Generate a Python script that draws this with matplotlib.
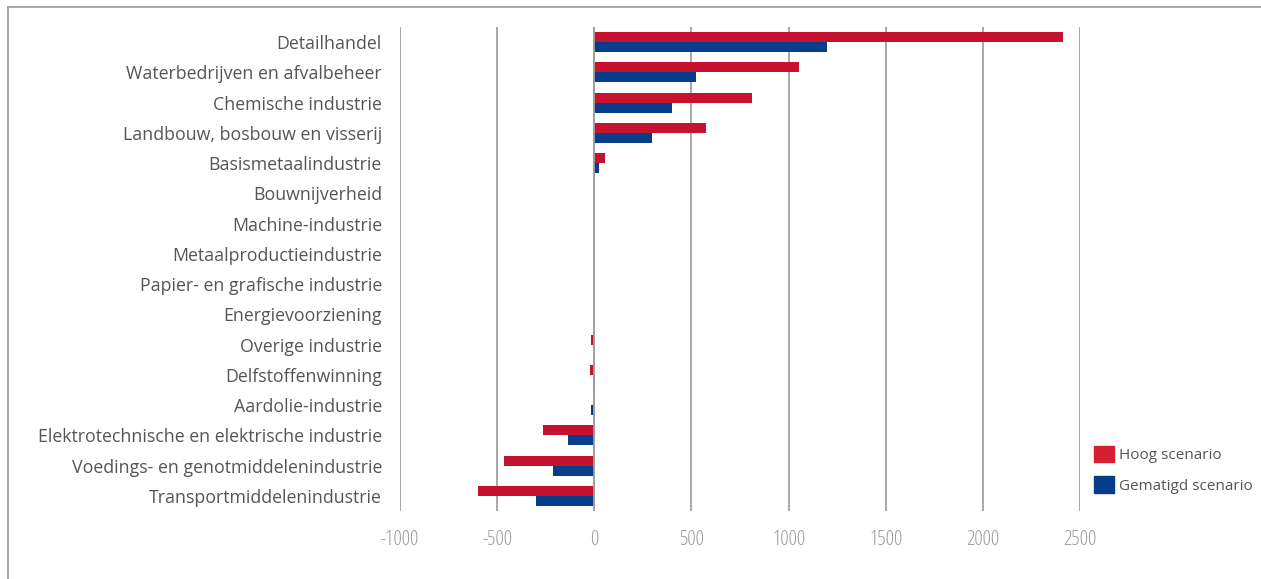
import numpy as np
import matplotlib.pyplot as plt
from matplotlib.lines import Line2D
from matplotlib.patches import Patch

# categories, top to bottom
sectoren = [
    'Detailhandel',
    'Waterbedrijven en afvalbeheer',
    'Chemische industrie',
    'Landbouw, bosbouw en visserij',
    'Basismetaalindustrie',
    'Bouwnijverheid',
    'Machine-industrie',
    'Metaalproductieindustrie',
    'Papier- en grafische industrie',
    'Energievoorziening',
    'Overige industrie',
    'Delfstoffenwinning',
    'Aardolie-industrie',
    'Elektrotechnische en elektrische industrie',
    'Voedings- en genotmiddelenindustrie',
    'Transportmiddelenindustrie',
]
hoog = [2410, 1055, 810, 575, 55, 0, 0, 0, 0, 0, -15, -20, 0, -265, -465, -600]
gematigd = [1200, 525, 400, 295, 25, 0, 0, 0, 0, 0, 0, 5, -15, -135, -215, -300]
xticks = [-1000, -500, 0, 500, 1000, 1500, 2000, 2500]

rood = '#c4122f'
blauw = '#083d8b'
plt.rcParams['font.family'] = ['Open Sans', 'DejaVu Sans']

fig = plt.figure(figsize=(12.61, 5.79), dpi=100)
ax = fig.add_axes([400 / 1261, 1 - 511 / 579, 680 / 1261, 484 / 579])

y = np.arange(len(sectoren))
h = 0.33
ax.barh(y - h / 2, hoog, height=h, color=rood, zorder=3)
ax.barh(y + h / 2, gematigd, height=h, color=blauw, zorder=3)

ax.set_xlim(-1000, 2500)
ax.set_ylim(len(sectoren) - 0.5, -0.5)
ax.set_xticks(xticks)
ax.set_xticklabels([str(t) for t in xticks], color='#9a9a9a', fontsize=15,
                   fontstretch='condensed')
ax.set_yticks(y)
ax.set_yticklabels(sectoren, color='#555555', fontsize=12.8)
ax.tick_params(axis='both', length=0)
ax.tick_params(axis='x', pad=14)
ax.tick_params(axis='y', pad=13)
for s in ax.spines.values():
    s.set_visible(False)
ax.grid(axis='x', color='#a0a0a0', linewidth=1.3, zorder=0)
ax.axvline(0, color='#a0a0a0', linewidth=1.3, zorder=4)

# frame lines (left and top only)
fig.add_artist(Line2D([8 / 1261, 8 / 1261], [0, 1 - 7 / 579], transform=fig.transFigure,
                      color='#a0a0a0', linewidth=1.3))
fig.add_artist(Line2D([8 / 1261, 1], [1 - 7 / 579, 1 - 7 / 579], transform=fig.transFigure,
                      color='#a0a0a0', linewidth=1.3))

handles = [Patch(color='#d42030', label='Hoog scenario'),
           Patch(color=blauw, label='Gematigd scenario')]
fig.legend(handles=handles, loc='upper left', bbox_to_anchor=(1080 / 1261, 1 - 432 / 579),
           frameon=False, fontsize=11, labelcolor='#555555', handlelength=1.3,
           handleheight=1.3, handletextpad=0.35, labelspacing=0.85)

fig.savefig('out.png', dpi=100)
